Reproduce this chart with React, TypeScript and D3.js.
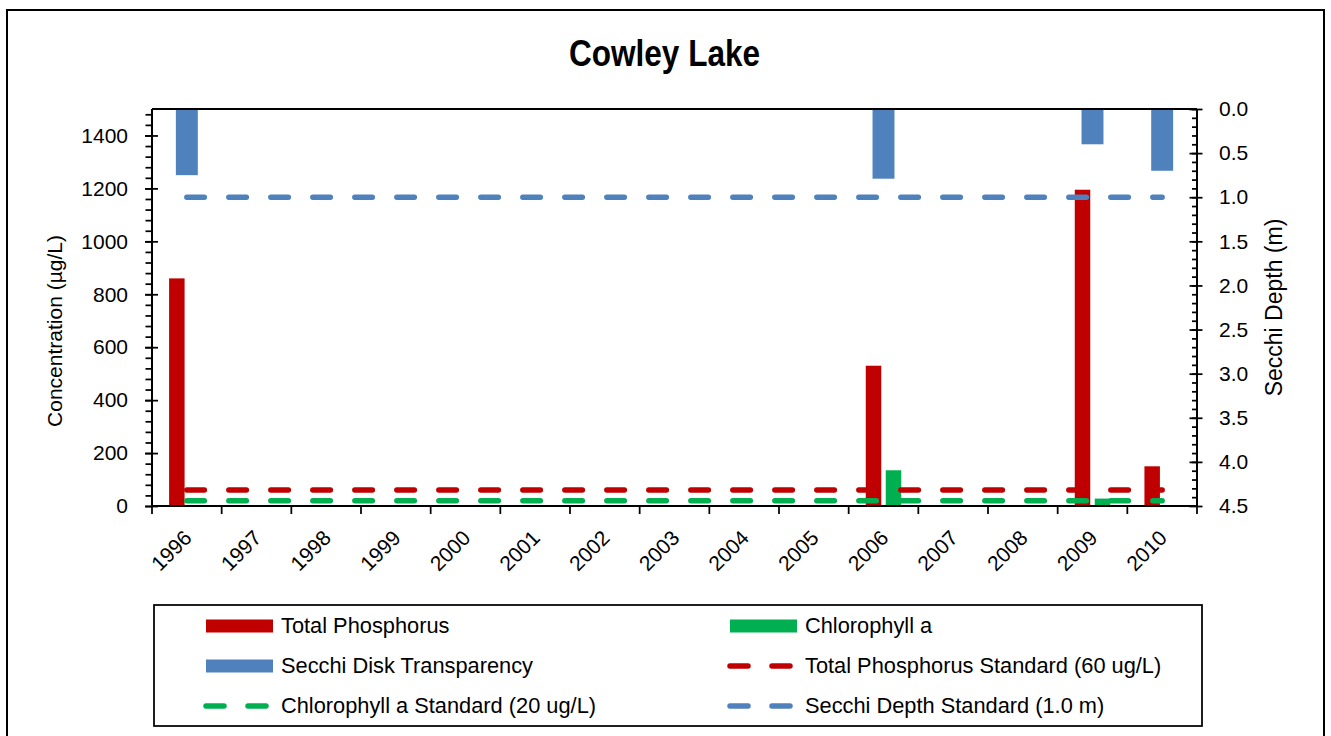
import * as d3 from 'd3'
import { useEffect, useRef } from 'react'

const years = ['1996', '1997', '1998', '1999', '2000', '2001', '2002', '2003', '2004', '2005', '2006', '2007', '2008', '2009', '2010']
const totalPhosphorus = [860, null, null, null, null, null, null, null, null, null, 530, null, null, 1195, 150]
const chlorophyllA = [null, null, null, null, null, null, null, null, null, null, 135, null, null, 28, null]
const secchiDepth = [0.75, null, null, null, null, null, null, null, null, null, 0.79, null, null, 0.4, 0.7]

const tpStandard = 60
const chlStandard = 20
const secchiStandard = 1.0

const leftTicks = [0, 200, 400, 600, 800, 1000, 1200, 1400]
const rightTicks = [0, 0.5, 1, 1.5, 2, 2.5, 3, 3.5, 4, 4.5]

const RED = '#C00000'
const GREEN = '#00B050'
const BLUE = '#4F81BD'
const FONT = '"Liberation Sans", Arial, sans-serif'

const legendItems = [
  { label: 'Total Phosphorus', kind: 'bar', color: RED },
  { label: 'Chlorophyll a', kind: 'bar', color: GREEN },
  { label: 'Secchi Disk Transparency', kind: 'bar', color: BLUE },
  { label: 'Total Phosphorus Standard (60 ug/L)', kind: 'dash', color: RED },
  { label: 'Chlorophyll a Standard (20 ug/L)', kind: 'dash', color: GREEN },
  { label: 'Secchi Depth Standard (1.0 m)', kind: 'dash', color: BLUE },
]

export default function App() {
  const ref = useRef<SVGSVGElement>(null)

  useEffect(() => {
    if (!ref.current) return
    const width = 1331
    const height = 736
    const left = 152
    const right = 1197
    const top = 109
    const bottom = 506

    const svg = d3.select(ref.current)
    svg.selectAll('*').remove()
    svg.attr('width', width).attr('height', height)
      .style('font-family', FONT)

    svg.append('rect').attr('width', width).attr('height', height).attr('fill', '#fff')
    // chart border
    svg.append('rect')
      .attr('x', 7).attr('y', 10).attr('width', 1317).attr('height', 740)
      .attr('fill', 'none').attr('stroke', '#000').attr('stroke-width', 2)

    svg.append('text')
      .attr('x', 664.5).attr('y', 66)
      .attr('text-anchor', 'middle')
      .attr('font-size', 36).attr('font-weight', 'bold')
      .attr('textLength', 191).attr('lengthAdjust', 'spacingAndGlyphs')
      .text('Cowley Lake')

    const x = d3.scaleBand().domain(years).range([left, right]).padding(0)
    const bw = x.bandwidth()
    const x1 = d3.scaleBand().domain(['tp', 'chl']).range([0, bw])
      .paddingInner(0.225).paddingOuter(0.855)
    const yL = d3.scaleLinear().domain([0, 1500]).range([bottom, top])
    const yR = d3.scaleLinear().domain([0, 4.5]).range([top, bottom])

    const g = svg.append('g')

    // secchi bars hang from the top (reversed secondary axis)
    const sw = bw * 0.315
    g.selectAll('rect.secchi')
      .data(years.map((yr, i) => ({ yr, v: secchiDepth[i] })).filter(d => d.v != null))
      .enter().append('rect')
      .attr('class', 'secchi')
      .attr('x', d => x(d.yr)! + bw / 2 - sw / 2)
      .attr('y', yR(0))
      .attr('width', sw)
      .attr('height', d => yR(d.v as number) - yR(0))
      .attr('fill', BLUE)

    const primary = [
      { key: 'tp', values: totalPhosphorus, color: RED },
      { key: 'chl', values: chlorophyllA, color: GREEN },
    ]
    primary.forEach(s => {
      g.selectAll('rect.' + s.key)
        .data(years.map((yr, i) => ({ yr, v: s.values[i] })).filter(d => d.v != null))
        .enter().append('rect')
        .attr('class', s.key)
        .attr('x', d => x(d.yr)! + x1(s.key)!)
        .attr('y', d => yL(d.v as number))
        .attr('width', x1.bandwidth())
        .attr('height', d => yL(0) - yL(d.v as number))
        .attr('fill', s.color)
    })

    // standard lines
    const lines = [
      { v: tpStandard, y: yL, color: RED },
      { v: chlStandard, y: yL, color: GREEN },
      { v: secchiStandard, y: yR, color: BLUE },
    ]
    lines.forEach(l => {
      const line = d3.line<string>()
        .x(d => x(d)! + bw / 2)
        .y(() => l.y(l.v))
      g.append('path')
        .attr('d', line(years))
        .attr('fill', 'none')
        .attr('stroke', l.color)
        .attr('stroke-width', 5.5)
        .attr('stroke-linecap', 'round')
        .attr('stroke-dasharray', '17.5 24.5')
    })

    // plot frame top
    svg.append('line')
      .attr('x1', left).attr('x2', right).attr('y1', top).attr('y2', top)
      .attr('stroke', '#000').attr('stroke-width', 2)

    const styleAxis = (sel: any) => {
      sel.select('.domain').remove()
      sel.selectAll('line').attr('stroke', '#000').attr('stroke-width', 1.75)
      sel.selectAll('text').attr('font-size', 21).attr('fill', '#000').style('font-family', FONT)
    }

    // left axis
    const leftMinor = d3.range(0, 1500, 40)
    svg.append('g').attr('transform', `translate(${left},0)`)
      .call(d3.axisLeft(yL).tickValues(leftMinor).tickSize(6.5).tickFormat(() => ''))
      .call(styleAxis)
    svg.append('g').attr('transform', `translate(${left},0)`)
      .call(d3.axisLeft(yL).tickValues(leftTicks).tickSize(7).tickPadding(17).tickFormat(d3.format('d')))
      .call(styleAxis)
    svg.append('g').attr('transform', `translate(${left},0)`)
      .call(d3.axisRight(yL).tickValues(leftTicks).tickSize(6).tickFormat(() => ''))
      .call(styleAxis)

    // right axis
    const rightMinor = d3.range(0, 45).map(i => i / 10)
    svg.append('g').attr('transform', `translate(${right},0)`)
      .call(d3.axisLeft(yR).tickValues(rightMinor).tickSize(5).tickFormat(() => ''))
      .call(styleAxis)
    svg.append('g').attr('transform', `translate(${right},0)`)
      .call(d3.axisLeft(yR).tickValues(rightTicks).tickSize(7.5).tickFormat(() => ''))
      .call(styleAxis)
    svg.append('g').attr('transform', `translate(${right},0)`)
      .call(d3.axisRight(yR).tickValues(rightTicks).tickSize(5.5).tickPadding(16.5).tickFormat(d3.format('.1f')))
      .call(styleAxis)

    // x axis ticks at category boundaries
    const bounds = years.map(yr => x(yr)!).concat([right])
    svg.append('g').selectAll('line').data(bounds).enter().append('line')
      .attr('x1', d => d).attr('x2', d => d)
      .attr('y1', bottom).attr('y2', bottom + 8)
      .attr('stroke', '#000').attr('stroke-width', 1.75)

    svg.append('g').selectAll('text').data(years).enter().append('text')
      .attr('transform', d => `translate(${x(d)! + bw / 2 + 1},${bottom + 28}) rotate(-45)`)
      .attr('text-anchor', 'end')
      .attr('dy', '0.35em')
      .attr('font-size', 21)
      .text(d => d)

    // axis lines
    svg.append('line').attr('x1', left).attr('x2', left).attr('y1', top).attr('y2', bottom)
      .attr('stroke', '#000').attr('stroke-width', 2)
    svg.append('line').attr('x1', right).attr('x2', right).attr('y1', top).attr('y2', bottom)
      .attr('stroke', '#000').attr('stroke-width', 2)
    svg.append('line').attr('x1', left).attr('x2', right).attr('y1', bottom).attr('y2', bottom)
      .attr('stroke', '#000').attr('stroke-width', 2)

    // axis titles
    svg.append('text')
      .attr('transform', `translate(62,331) rotate(-90)`)
      .attr('text-anchor', 'middle')
      .attr('font-size', 21)
      .text('Concentration (µg/L)')
    svg.append('text')
      .attr('transform', `translate(1282,307.5) rotate(-90)`)
      .attr('text-anchor', 'middle')
      .attr('font-size', 23)
      .text('Secchi Depth (m)')

    // legend
    svg.append('rect')
      .attr('x', 154).attr('y', 605).attr('width', 1048).attr('height', 121)
      .attr('fill', '#fff').attr('stroke', '#000').attr('stroke-width', 1.75)
    const colX = [206, 730]
    const rowY = [626, 666, 706]
    const lg = svg.append('g')
    legendItems.forEach((item, i) => {
      const cx = colX[i % 2]
      const cy = rowY[Math.floor(i / 2)]
      if (item.kind === 'bar') {
        lg.append('rect')
          .attr('x', cx).attr('y', cy - 6.5).attr('width', 67).attr('height', 13)
          .attr('fill', item.color)
      } else {
        lg.append('line')
          .attr('x1', cx).attr('x2', cx + 61).attr('y1', cy).attr('y2', cy)
          .attr('stroke', item.color).attr('stroke-width', 5.5)
          .attr('stroke-linecap', 'round').attr('stroke-dasharray', '18 24')
      }
      lg.append('text')
        .attr('x', cx + 75).attr('y', cy + 7)
        .attr('font-size', 21.8)
        .text(item.label)
    })
  }, [])

  return (
    <div style={{ position: 'absolute', left: 0, top: 0 }}>
      <svg ref={ref} style={{ display: 'block' }} />
    </div>
  )
}
